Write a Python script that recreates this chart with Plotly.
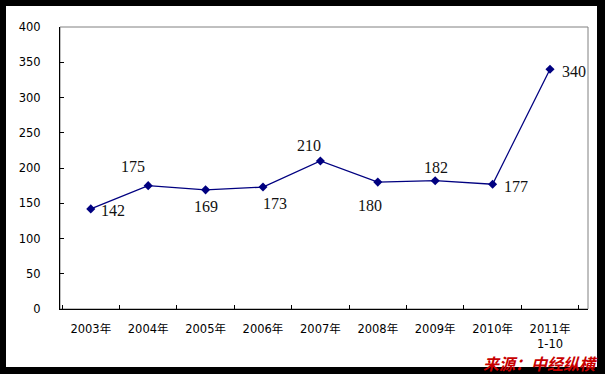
import plotly.graph_objects as go

categories = ["2003年", "2004年", "2005年", "2006年", "2007年", "2008年", "2009年", "2010年", "2011年<br>1-10"]
values = [142, 175, 169, 173, 210, 180, 182, 177, 340]
label_dx = [22, -15, 0, 12, -11, -8, 1, 23, 24]
label_dy = [-2, 19, -17, -16, 15, -23, 13, -2, -2]

W, H = 605, 374
L, R, T, B = 60, 17, 27, 65
pw, ph = W - L - R, H - T - B

def px_x(p):
    return (p - L) / pw

def px_y(p):
    return (H - B - p) / ph

fig = go.Figure()
fig.add_trace(go.Scatter(
    x=categories, y=values, mode="lines+markers",
    line=dict(color="#000080", width=1.3),
    marker=dict(symbol="diamond", size=7, color="#000080"),
    hoverinfo="skip", showlegend=False,
))

for c, v, dx, dy in zip(categories, values, label_dx, label_dy):
    fig.add_annotation(x=c, y=v, xref="x", yref="y", text=str(v), showarrow=False,
                       xshift=dx, yshift=dy, xanchor="center", yanchor="middle",
                       font=dict(family="Liberation Serif", size=16, color="#111111"))

fig.add_annotation(x=px_x(599), y=px_y(363), xref="paper", yref="paper",
                   text="<b><i>来源：中经纵横</i></b>", showarrow=False,
                   xanchor="right", yanchor="middle", borderpad=0,
                   font=dict(family="Noto Sans CJK SC", size=16, color="#c80000"))

# outer black frame with white interior
fig.add_shape(type="rect", xref="paper", yref="paper",
              x0=px_x(6), x1=px_x(597), y0=px_y(367), y1=px_y(6),
              fillcolor="white", line=dict(width=0), layer="below")
# gray plot-area border (top/right)
fig.add_shape(type="rect", xref="paper", yref="paper", x0=0, x1=1, y0=0, y1=1,
              line=dict(color="#808080", width=1), fillcolor="rgba(0,0,0,0)", layer="below")

tickfont = dict(family="DejaVu Sans, Noto Sans CJK SC", size=11.5, color="#000000")
fig.update_xaxes(type="category", showline=True, linecolor="black", linewidth=1,
                 ticks="inside", tickson="boundaries", ticklen=4, tickcolor="black",
                 showgrid=False, tickfont=tickfont, ticklabelstandoff=9, zeroline=False)
fig.update_yaxes(range=[0, 400], dtick=50, showline=True, linecolor="black", linewidth=1,
                 ticks="inside", ticklen=4, tickcolor="black", showgrid=False,
                 tickfont=tickfont, ticklabelstandoff=16, zeroline=False)

fig.update_layout(width=W, height=H, margin=dict(l=L, r=R, t=T, b=B),
                  paper_bgcolor="black", plot_bgcolor="white")
fig.write_html("out.html", config={"displayModeBar": False},
               post_script="document.body.style.margin='0px';")
